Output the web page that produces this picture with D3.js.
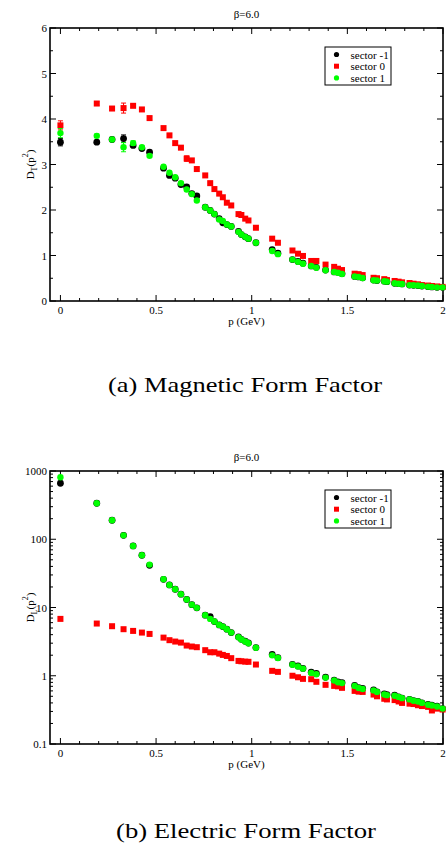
<!DOCTYPE html>
<html><head><meta charset="utf-8">
<script src="https://cdn.jsdelivr.net/npm/d3@7/dist/d3.min.js"></script>
<style>body{margin:0;background:#fff}svg{display:block}</style>
</head><body>
<script>
// ---------- data ----------
const momenta = [0,0.19,0.27,0.33,0.38,0.426,0.466,0.539,0.57,0.60,0.63,0.66,0.687,0.713,0.757,0.783,0.805,0.83,0.849,0.87,0.893,0.931,0.946,0.966,0.983,1.022,1.107,1.137,1.213,1.242,1.268,1.311,1.338,1.386,1.431,1.451,1.472,1.538,1.559,1.580,1.637,1.655,1.693,1.707,1.747,1.768,1.786,1.825,1.846,1.869,1.890,1.922,1.942,1.969,1.998];
const seriesNames = ["sector -1","sector 0","sector 1"];
const xTicks = [0,0.5,1,1.5,2];
const xTickLabels = ["0","0.5","1","1.5","2"];
const dtTicks = [0,1,2,3,4,5,6];
const dlTicks = [0.1,1,10,100,1000];
const dlTickLabels = ["0.1","1","10","100","1000"];

// Magnetic form factor D_T
const dtSectorM1 = [3.49,3.49,3.55,3.57,3.42,3.35,3.27,2.92,2.76,2.70,2.56,2.51,2.36,2.31,2.06,1.99,1.91,1.81,1.72,1.68,1.64,1.53,1.46,1.41,1.37,1.28,1.13,1.05,0.91,0.87,0.83,0.77,0.74,0.68,0.64,0.63,0.60,0.54,0.53,0.51,0.46,0.45,0.435,0.425,0.39,0.38,0.375,0.35,0.345,0.34,0.33,0.315,0.31,0.30,0.30];
const dtSector0  = [3.86,4.34,4.23,4.24,4.29,4.21,4.02,3.80,3.64,3.47,3.37,3.13,3.09,2.90,2.76,2.59,2.46,2.36,2.28,2.16,2.10,1.91,1.89,1.81,1.77,1.61,1.37,1.28,1.11,1.04,0.99,0.88,0.88,0.80,0.75,0.71,0.68,0.60,0.59,0.57,0.51,0.50,0.48,0.46,0.44,0.425,0.41,0.395,0.38,0.367,0.35,0.34,0.33,0.32,0.31];
const dtSector1  = [3.69,3.63,3.55,3.38,3.47,3.38,3.19,2.95,2.82,2.72,2.59,2.45,2.35,2.21,2.06,1.99,1.91,1.79,1.76,1.68,1.64,1.52,1.46,1.41,1.37,1.28,1.10,1.03,0.91,0.86,0.82,0.77,0.73,0.675,0.64,0.62,0.595,0.54,0.53,0.505,0.455,0.45,0.433,0.425,0.39,0.38,0.375,0.35,0.345,0.34,0.33,0.315,0.31,0.30,0.30];
const dtErrM1 = [0.08,0.03,0.02,0.08,0.03,0.02,0.02];
const dtErr0  = [0.1,0.04,0.04,0.11,0.03,0.02,0.03,0.02,0.03,0.02,0.02,0.06,0.02];
const dtErr1  = [0.1,0.04,0.02,0.1,0.05,0.03,0.03];

// Electric form factor D_L
const dlSectorM1 = [661,337,190,114,79.8,58.3,41.5,25.9,21.4,18.5,15.7,13.1,11.0,9.88,7.72,7.36,6.22,5.56,5.25,4.81,4.29,3.70,3.42,3.20,3.02,2.59,2.05,1.84,1.47,1.39,1.28,1.13,1.08,0.95,0.86,0.81,0.79,0.72,0.67,0.65,0.62,0.58,0.54,0.53,0.52,0.49,0.47,0.45,0.43,0.42,0.40,0.38,0.37,0.36,0.33];
const dlSector0  = [6.81,5.82,5.32,4.81,4.54,4.29,4.10,3.62,3.32,3.17,3.06,2.77,2.68,2.62,2.37,2.21,2.21,2.11,2.02,1.95,1.81,1.65,1.63,1.61,1.60,1.46,1.18,1.14,1.00,0.95,0.90,0.89,0.815,0.736,0.71,0.70,0.665,0.60,0.585,0.58,0.53,0.50,0.46,0.45,0.44,0.42,0.40,0.39,0.385,0.37,0.36,0.35,0.31,0.33,0.32];
const dlSector1  = [809,337,190,114,79.8,58.3,42.5,25.9,21.4,18.5,15.7,13.1,11.0,9.88,7.72,6.81,6.22,5.56,5.25,4.81,4.29,3.67,3.40,3.18,3.00,2.57,1.99,1.82,1.45,1.37,1.27,1.10,1.05,0.94,0.85,0.80,0.78,0.71,0.66,0.64,0.61,0.58,0.53,0.52,0.51,0.49,0.47,0.45,0.43,0.42,0.40,0.375,0.366,0.355,0.33];

// ---------- drawing ----------
const W = 446, H = 844;
const svg = d3.select("body").append("svg").attr("width", W).attr("height", H);
const serif = "'Liberation Serif','Times New Roman',serif";
const colors = ["#000000","#ff0000","#00ff00"];

function drawPanel(cfg) {
  const left = 50, right = 443, top = cfg.top, bottom = cfg.bottom;
  const x = d3.scaleLinear().domain([-0.0545, 2.0]).range([left, right]);
  const y = cfg.log
    ? d3.scaleLog().domain([0.1, 1000]).range([bottom, top])
    : d3.scaleLinear().domain([0, 6]).range([bottom, top]);
  const g = svg.append("g");

  // ticks (inward on all sides)
  const xMinor = d3.range(0, 2.0001, 0.1).filter(v => Math.abs(v*2 - Math.round(v*2)) > 1e-6);
  const tickG = g.append("g").attr("stroke", "#000").attr("stroke-width", 1);
  function xt(v, len) {
    tickG.append("line").attr("x1", x(v)).attr("x2", x(v)).attr("y1", bottom).attr("y2", bottom - len);
    tickG.append("line").attr("x1", x(v)).attr("x2", x(v)).attr("y1", top).attr("y2", top + len);
  }
  function yt(v, len) {
    tickG.append("line").attr("y1", y(v)).attr("y2", y(v)).attr("x1", left).attr("x2", left + len);
    tickG.append("line").attr("y1", y(v)).attr("y2", y(v)).attr("x1", right).attr("x2", right - len);
  }
  xTicks.forEach(v => xt(v, 6));
  xMinor.forEach(v => xt(v, 3));
  const yMajor = cfg.log ? dlTicks : dtTicks;
  yMajor.forEach(v => yt(v, 6));
  if (cfg.log) {
    [0.1, 1, 10, 100].forEach(d => { for (let k = 2; k <= 9; k++) yt(d * k, 3); });
  } else {
    d3.range(0.5, 6, 1).forEach(v => yt(v, 3));
  }

  // frame
  g.append("rect").attr("x", left).attr("y", top).attr("width", right - left).attr("height", bottom - top)
    .attr("fill", "none").attr("stroke", "#000").attr("stroke-width", 1.6);

  // tick labels
  const lab = g.append("g").attr("font-family", serif).attr("font-size", 11).attr("fill", "#000");
  xTicks.forEach((v, i) => lab.append("text").attr("x", x(v)).attr("y", bottom + 13)
    .attr("text-anchor", "middle").text(xTickLabels[i]));
  const yLabs = cfg.log ? dlTickLabels : dtTicks.map(String);
  yMajor.forEach((v, i) => lab.append("text").attr("x", left - 3).attr("y", y(v) + 4)
    .attr("text-anchor", "end").text(yLabs[i]));

  // title and axis labels
  lab.append("text").attr("x", (left + right) / 2).attr("y", top - 10).attr("text-anchor", "middle").text("β=6.0");
  lab.append("text").attr("x", (left + right) / 2).attr("y", bottom + 24).attr("text-anchor", "middle").text("p (GeV)");
  const yl = lab.append("text").attr("transform", `translate(34,${(top + bottom) / 2}) rotate(-90)`)
    .attr("text-anchor", "middle");
  yl.append("tspan").text("D");
  yl.append("tspan").attr("font-size", 8).attr("dy", 3).text(cfg.sub);
  yl.append("tspan").attr("dy", -3).text("(p");
  yl.append("tspan").attr("font-size", 8).attr("dy", -6).text("2");
  yl.append("tspan").attr("dy", 6).text(")");

  // data
  const series = cfg.series;
  const errs = cfg.errs || [[], [], []];
  [0, 1, 2].forEach(si => {
    const vals = series[si];
    const sg = g.append("g");
    const pts = momenta.map((p, i) => ({ p, v: vals[i], e: errs[si][i] || 0 }));
    pts.filter(d => d.e > 0.025).forEach(d => {
      const cx = x(d.p), y1 = y(d.v + d.e), y2 = y(d.v - d.e);
      sg.append("line").attr("x1", cx).attr("x2", cx).attr("y1", y1).attr("y2", y2).attr("stroke", colors[si]).attr("stroke-width", 1);
      [y1, y2].forEach(yy => sg.append("line").attr("x1", cx - 2.5).attr("x2", cx + 2.5).attr("y1", yy).attr("y2", yy)
        .attr("stroke", colors[si]).attr("stroke-width", 1));
    });
    if (si === 1) {
      sg.selectAll("rect").data(pts).join("rect")
        .attr("x", d => x(d.p) - 3).attr("y", d => y(d.v) - 3).attr("width", 6).attr("height", 6)
        .attr("fill", colors[si]);
    } else {
      sg.selectAll("circle").data(pts).join("circle")
        .attr("cx", d => x(d.p)).attr("cy", d => y(d.v)).attr("r", si === 0 ? 3.4 : 3.2)
        .attr("fill", colors[si]);
    }
  });

  // legend
  const lx = 325, ly = top + 19;
  const lg = g.append("g");
  lg.append("rect").attr("x", lx).attr("y", ly).attr("width", 66).attr("height", 38)
    .attr("fill", "#fff").attr("stroke", "#000").attr("stroke-width", 1);
  seriesNames.forEach((n, i) => {
    const cy = ly + 7.5 + i * 11.7;
    if (i === 1) lg.append("rect").attr("x", lx + 9).attr("y", cy - 2.5).attr("width", 5).attr("height", 5).attr("fill", colors[i]);
    else lg.append("circle").attr("cx", lx + 11.5).attr("cy", cy).attr("r", 2.6).attr("fill", colors[i]);
    lg.append("text").attr("x", lx + 25.5).attr("y", cy + 4).attr("font-family", serif).attr("font-size", 11).text(n);
  });

  // caption
  svg.append("text").attr("x", cfg.capX).attr("y", cfg.capY).attr("text-anchor", "middle")
    .attr("font-family", serif).attr("font-size", 21)
    .attr("textLength", cfg.capW).attr("lengthAdjust", "spacingAndGlyphs").text(cfg.caption);
}

drawPanel({ top: 28, bottom: 301, log: false, sub: "T",
  series: [dtSectorM1, dtSector0, dtSector1], errs: [dtErrM1, dtErr0, dtErr1],
  caption: "(a) Magnetic Form Factor", capX: 245, capY: 392, capW: 274 });
drawPanel({ top: 471, bottom: 744, log: true, sub: "L",
  series: [dlSectorM1, dlSector0, dlSector1],
  caption: "(b) Electric Form Factor", capX: 246, capY: 838, capW: 260 });
</script>
</body></html>
